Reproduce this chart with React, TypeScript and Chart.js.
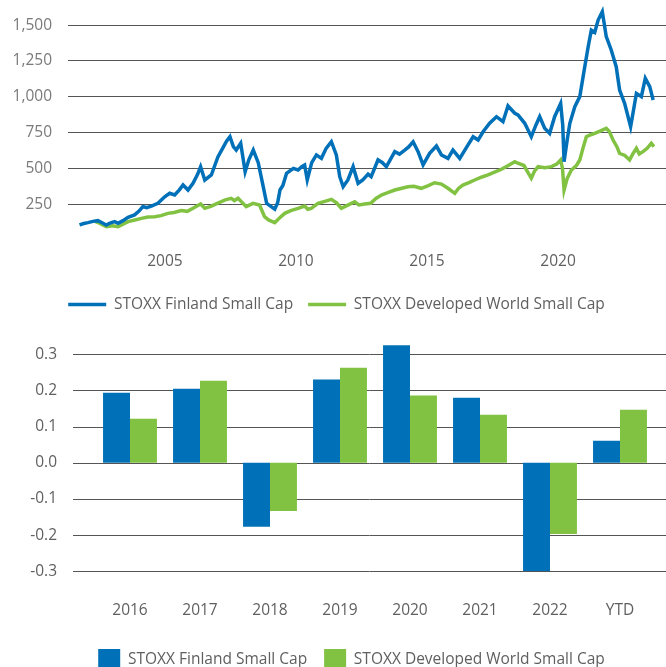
import React, { useEffect, useRef } from "react";
import { Chart, registerables } from "chart.js";

Chart.register(...registerables);

const FONT_FAMILY = "'Open Sans', 'Noto Sans', sans-serif";
const TEXT_COLOR = "#5f5f5f";
const GRID_COLOR = "#555555";
const BLUE = "#0070b8";
const GREEN = "#82c242";

const seriesNames = ["STOXX Finland Small Cap", "STOXX Developed World Small Cap"];

// ---- Line chart data (decimal years, index levels) ----
const finYears = [
  2001.74, 2001.9, 2002.06, 2002.25, 2002.44, 2002.6, 2002.76, 2002.9, 2003.08, 2003.21,
  2003.4, 2003.59, 2003.84, 2004.0, 2004.16, 2004.3, 2004.48, 2004.73, 2004.99, 2005.18,
  2005.37, 2005.55, 2005.69, 2005.88, 2006.07, 2006.25, 2006.36, 2006.52, 2006.77, 2007.02,
  2007.2, 2007.35, 2007.48, 2007.61, 2007.72, 2007.89, 2008.06, 2008.2, 2008.37, 2008.56,
  2008.75, 2008.88, 2009.0, 2009.19, 2009.3, 2009.39, 2009.5, 2009.64, 2009.9, 2010.08,
  2010.22, 2010.33, 2010.43, 2010.6, 2010.78, 2010.97, 2011.15, 2011.35, 2011.54, 2011.67,
  2011.8, 2011.98, 2012.18, 2012.37, 2012.55, 2012.75, 2012.87, 2013.13, 2013.3, 2013.45,
  2013.77, 2013.95, 2014.15, 2014.3, 2014.47, 2014.66, 2014.85, 2015.1, 2015.36, 2015.55,
  2015.8, 2015.99, 2016.25, 2016.56, 2016.76, 2016.95, 2017.14, 2017.39, 2017.65, 2017.9,
  2018.09, 2018.35, 2018.47, 2018.73, 2018.98, 2019.15, 2019.3, 2019.49, 2019.68, 2019.87,
  2020.1, 2020.18, 2020.23, 2020.35, 2020.45, 2020.64, 2020.83, 2021.02, 2021.15, 2021.27,
  2021.4, 2021.53, 2021.69, 2021.84, 2022.03, 2022.22, 2022.35, 2022.54, 2022.77, 2022.99,
  2023.18, 2023.33, 2023.5, 2023.63,
];
const finValues = [
  105, 115, 121, 130, 135, 120, 105, 118, 128, 116,
  135, 158, 175, 200, 233, 225, 237, 256, 302, 326,
  314, 350, 384, 349, 396, 460, 512, 419, 454, 580,
  640, 690, 721, 652, 628, 675, 477, 560, 628, 540,
  372, 256, 240, 215, 260, 349, 380, 466, 500, 489,
  512, 524, 419, 540, 594, 570, 640, 686, 594, 442,
  372, 419, 512, 396, 420, 460, 442, 559, 540, 512,
  617, 600, 628, 650, 686, 617, 524, 605, 656, 594,
  570, 628, 570, 663, 721, 698, 756, 815, 861, 826,
  936, 885, 873, 815, 721, 800, 861, 780, 745, 861,
  954, 800, 547, 700, 815, 931, 1001, 1210, 1350, 1466,
  1450, 1536, 1595, 1420, 1327, 1210, 1047, 954, 791, 1024,
  1001, 1129, 1071, 978,
];

const worldYears = [
  2002.33, 2002.5, 2002.76, 2003.0, 2003.21, 2003.4, 2003.59, 2003.85, 2004.1, 2004.35,
  2004.61, 2004.85, 2005.11, 2005.35, 2005.62, 2005.85, 2006.07, 2006.36, 2006.52, 2006.75,
  2007.02, 2007.3, 2007.53, 2007.65, 2007.79, 2008.1, 2008.36, 2008.61, 2008.8, 2008.95,
  2009.19, 2009.35, 2009.57, 2009.8, 2010.08, 2010.33, 2010.45, 2010.58, 2010.84, 2011.1,
  2011.35, 2011.55, 2011.73, 2012.0, 2012.24, 2012.4, 2012.62, 2012.85, 2013.05, 2013.26,
  2013.5, 2013.77, 2014.0, 2014.27, 2014.5, 2014.78, 2015.05, 2015.29, 2015.55, 2015.8,
  2016.06, 2016.2, 2016.37, 2016.6, 2016.82, 2017.1, 2017.33, 2017.6, 2017.84, 2018.1,
  2018.35, 2018.47, 2018.7, 2018.98, 2019.1, 2019.24, 2019.5, 2019.75, 2019.95, 2020.1,
  2020.17, 2020.23, 2020.35, 2020.51, 2020.7, 2020.83, 2020.95, 2021.08, 2021.25, 2021.4,
  2021.6, 2021.84, 2021.95, 2022.1, 2022.25, 2022.35, 2022.55, 2022.73, 2022.85, 2022.99,
  2023.1, 2023.24, 2023.4, 2023.56, 2023.66,
];
const worldValues = [
  130, 118, 93, 100, 93, 110, 128, 140, 151, 160,
  163, 170, 186, 192, 205, 200, 221, 251, 221, 235,
  258, 280, 291, 275, 291, 233, 256, 244, 163, 140,
  121, 150, 186, 205, 221, 237, 215, 221, 256, 270,
  284, 260, 221, 245, 267, 245, 251, 256, 290, 314,
  330, 349, 360, 372, 375, 361, 380, 400, 390, 361,
  326, 360, 384, 400, 419, 440, 454, 475, 494, 520,
  547, 536, 520, 431, 480, 512, 505, 512, 530, 559,
  500, 349, 430, 489, 520, 559, 640, 721, 735, 745,
  760, 780, 760, 698, 650, 605, 590, 559, 600, 640,
  600, 617, 640, 675, 652,
];

const lineYTicks = [250, 500, 750, 1000, 1250, 1500];
const lineXTicks = [2005, 2010, 2015, 2020];

// ---- Bar chart data (annual returns) ----
const barCategories = ["2016", "2017", "2018", "2019", "2020", "2021", "2022", "YTD"];
const finReturns = [0.194, 0.205, -0.177, 0.23, 0.325, 0.18, -0.3, 0.061];
const worldReturns = [0.122, 0.227, -0.133, 0.263, 0.186, 0.133, -0.197, 0.147];
const barYTicks = [-0.3, -0.2, -0.1, 0, 0.1, 0.2, 0.3];

const font = { family: FONT_FAMILY, size: 15.5 };

const extendedGrid = {
  id: "extendedGrid",
  beforeDatasetsDraw(chart: any) {
    const { ctx } = chart;
    const y = chart.scales.y;
    ctx.save();
    ctx.strokeStyle = GRID_COLOR;
    ctx.lineWidth = 1;
    y.ticks.forEach((t: any) => {
      const py = Math.round(y.getPixelForValue(t.value)) + 0.5;
      ctx.beginPath();
      ctx.moveTo(73, py);
      ctx.lineTo(chart.width, py);
      ctx.stroke();
    });
    ctx.restore();
  },
};

const legendShift = (dx: number) => ({
  id: "legendShift",
  afterLayout(chart: any) {
    const l = chart.legend;
    if (l) {
      l.left += dx;
      l.right += dx;
    }
  },
});

const fixVertical = (width: number) => (s: any) => {
  s.width = width;
  s.paddingTop = 0;
  s.paddingBottom = 0;
};

export default function App() {
  const lineRef = useRef<HTMLCanvasElement>(null);
  const barRef = useRef<HTMLCanvasElement>(null);

  useEffect(() => {
    const lineChart = new Chart(lineRef.current as HTMLCanvasElement, {
      type: "line",
      data: {
        datasets: [
          {
            label: seriesNames[0],
            data: finYears.map((x, i) => ({ x, y: finValues[i] })),
            borderColor: BLUE,
            backgroundColor: BLUE,
            borderWidth: 3.5,
            pointRadius: 0,
            tension: 0,
            clip: false,
          },
          {
            label: seriesNames[1],
            data: worldYears.map((x, i) => ({ x, y: worldValues[i] })),
            borderColor: GREEN,
            backgroundColor: GREEN,
            borderWidth: 3.5,
            pointRadius: 0,
            tension: 0,
            clip: false,
          },
        ],
      } as any,
      options: {
        animation: false,
        responsive: false,
        maintainAspectRatio: false,
        layout: { padding: { left: 0, right: 0, top: 10, bottom: 7.75 } },
        plugins: {
          legend: {
            position: "bottom",
            labels: {
              usePointStyle: true,
              pointStyle: "line",
              pointStyleWidth: 38,
              color: TEXT_COLOR,
              font,
              padding: 15,
            },
          },
          tooltip: { enabled: false },
        },
        scales: {
          x: {
            type: "linear",
            min: 2001.3,
            max: 2024.12,
            grid: { display: false, drawTicks: false },
            border: { display: false },
            afterBuildTicks: (s: any) => {
              s.ticks = lineXTicks.map((v) => ({ value: v }));
            },
            afterFit: (s: any) => {
              s.height = 33.75;
            },
            ticks: {
              color: TEXT_COLOR,
              font,
              padding: 4,
              maxRotation: 0,
              autoSkip: false,
              callback: (v: any) => String(v),
            },
          },
          y: {
            type: "linear",
            min: -56,
            max: (240 - 10) / 0.1432,
            grid: { color: GRID_COLOR, drawTicks: false, lineWidth: 1 },
            border: { display: false },
            afterBuildTicks: (s: any) => {
              s.ticks = lineYTicks.map((v) => ({ value: v }));
            },
            afterFit: fixVertical(68),
            ticks: {
              color: "#7a7a7a",
              font,
              padding: 16,
              callback: (v: any) => Number(v).toLocaleString("en-US"),
            },
          },
        },
      } as any,
      plugins: [legendShift(3.5)],
    });

    const barChart = new Chart(barRef.current as HTMLCanvasElement, {
      type: "bar",
      data: {
        labels: barCategories,
        datasets: [
          { label: seriesNames[0], data: finReturns, backgroundColor: BLUE, borderWidth: 0 },
          { label: seriesNames[1], data: worldReturns, backgroundColor: GREEN, borderWidth: 0 },
        ],
      },
      options: {
        animation: false,
        responsive: false,
        maintainAspectRatio: false,
        layout: { padding: { left: 0, right: 11, top: 10, bottom: 9 } },
        datasets: { bar: { barPercentage: 1, categoryPercentage: 0.77 } },
        plugins: {
          legend: {
            position: "bottom",
            labels: { boxWidth: 22, boxHeight: 22, color: TEXT_COLOR, font, padding: 17 },
          },
          tooltip: { enabled: false },
        },
        scales: {
          x: {
            grid: { display: false, drawTicks: false },
            border: { display: false },
            afterFit: (s: any) => {
              s.height = 60.7;
            },
            ticks: { color: TEXT_COLOR, font, padding: 30, maxRotation: 0, autoSkip: false },
          },
          y: {
            min: -0.3,
            max: 0.3 + (24.3 - 10) / 361.7,
            grid: { display: false, drawTicks: false },
            border: { display: false },
            afterBuildTicks: (s: any) => {
              s.ticks = barYTicks.map((v) => ({ value: v }));
            },
            afterFit: fixVertical(95),
            ticks: {
              color: TEXT_COLOR,
              font,
              padding: 38,
              callback: (v: any) => Number(v).toFixed(1),
            },
          },
        },
      } as any,
      plugins: [extendedGrid, legendShift(24)],
    });

    return () => {
      lineChart.destroy();
      barChart.destroy();
    };
  }, []);

  return (
    <div
      style={{
        position: "fixed",
        left: 0,
        top: 0,
        width: 666,
        height: 667,
        overflow: "hidden",
        background: "#ffffff",
      }}
    >
      <div style={{ position: "absolute", left: 0, top: 0, width: 666, height: 330 }}>
        <canvas ref={lineRef} width={666} height={330} style={{ display: "block" }} />
      </div>
      <div style={{ position: "absolute", left: 0, top: 330, width: 666, height: 360 }}>
        <canvas ref={barRef} width={666} height={360} style={{ display: "block" }} />
      </div>
    </div>
  );
}
